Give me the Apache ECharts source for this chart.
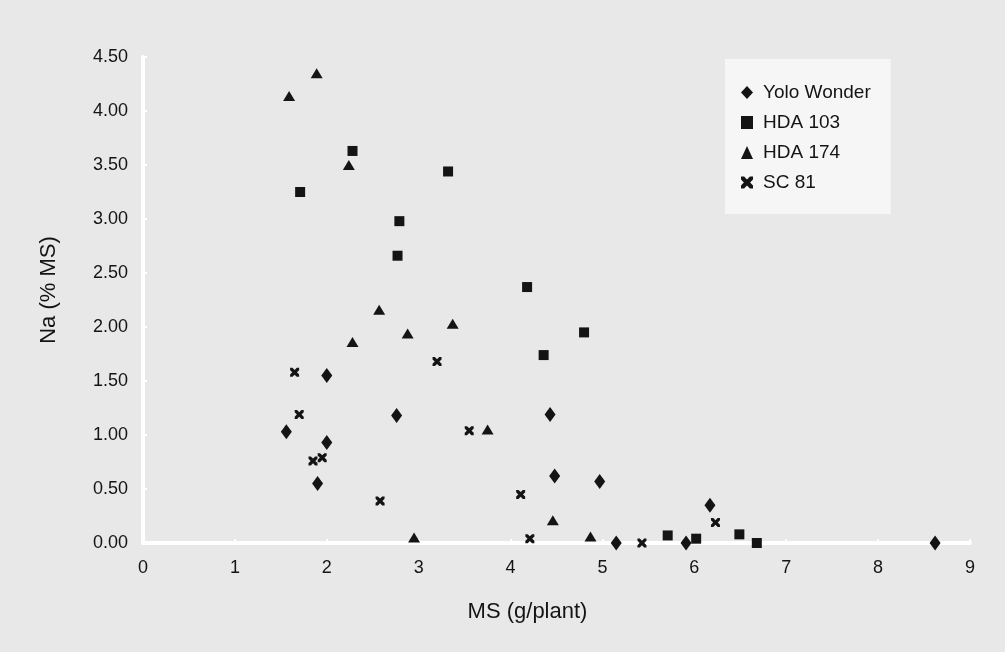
<!DOCTYPE html>
<html>
<head>
<meta charset="utf-8">
<script src="https://cdn.jsdelivr.net/npm/echarts@6/dist/echarts.min.js"></script>
<style>
  html, body { margin: 0; padding: 0; background: #e8e8e8; }
  #chart { width: 1005px; height: 652px; }
</style>
</head>
<body>
<div id="chart"></div>
<script>
// MS (g/plant) vs Na (% MS), one array per variety
const yoloWonder = [
  [1.56, 1.03], [1.90, 0.55], [2.00, 0.93], [2.00, 1.55], [2.76, 1.18],
  [4.43, 1.19], [4.48, 0.62], [4.97, 0.57], [5.15, 0.00], [5.91, 0.00],
  [6.17, 0.35], [8.62, 0.00]
]
const hda103 = [
  [1.71, 3.25], [2.28, 3.63], [2.77, 2.66], [2.79, 2.98], [3.32, 3.44],
  [4.18, 2.37], [4.36, 1.74], [4.80, 1.95], [5.71, 0.07], [6.02, 0.04],
  [6.49, 0.08], [6.68, 0.00]
]
const hda174 = [
  [1.59, 4.14], [1.89, 4.35], [2.24, 3.50], [2.28, 1.86], [2.57, 2.16],
  [2.88, 1.94], [2.95, 0.05], [3.37, 2.03], [3.75, 1.05], [4.46, 0.21],
  [4.87, 0.06]
]
const sc81 = [
  [1.65, 1.58], [1.70, 1.19], [1.85, 0.76], [1.95, 0.79], [2.58, 0.39],
  [3.20, 1.68], [3.55, 1.04], [4.11, 0.45], [4.21, 0.04], [5.43, 0.00],
  [6.23, 0.19]
]
const seriesNames = ['Yolo Wonder', 'HDA 103', 'HDA 174', 'SC 81']

const font = "'Liberation Sans', Arial, sans-serif"
const ink = '#141414'
const crossPath = 'path://M0,0 L2.6,0 L5,2.4 L7.4,0 L10,0 L10,2.6 L7.6,5 L10,7.4 L10,10 L7.4,10 L5,7.6 L2.6,10 L0,10 L0,7.4 L2.4,5 L0,2.6 Z'

const chart = echarts.init(document.getElementById('chart'))

const option = {
  backgroundColor: '#e8e8e8',
  animation: false,
  grid: { left: 143, right: 35, top: 57, bottom: 109 },
  legend: {
    orient: 'vertical',
    left: 725,
    top: 59,
    padding: [24, 20, 22, 16],
    backgroundColor: '#f6f6f6',
    itemWidth: 12,
    itemHeight: 13,
    itemGap: 11,
    textStyle: { color: ink, fontFamily: font, fontSize: 19, padding: [0, 0, 0, 5] },
    data: seriesNames
  },
  xAxis: {
    type: 'value',
    min: 0,
    max: 9,
    interval: 1,
    name: 'MS (g/plant)',
    nameLocation: 'middle',
    nameGap: 58,
    nameTextStyle: { color: ink, fontFamily: font, fontSize: 22, padding: [0, 58, 0, 0] },
    axisLine: { lineStyle: { color: '#ffffff', width: 4 } },
    axisTick: { show: true, inside: true, length: 4, lineStyle: { color: '#ffffff', width: 2 } },
    axisLabel: { color: ink, fontFamily: font, fontSize: 18, margin: 16 },
    splitLine: { show: false }
  },
  yAxis: {
    type: 'value',
    min: 0,
    max: 4.5,
    interval: 0.5,
    name: 'Na (% MS)',
    nameLocation: 'middle',
    nameGap: 83,
    nameTextStyle: { color: ink, fontFamily: font, fontSize: 22, padding: [0, 0, 0, 20] },
    axisLine: { show: true, lineStyle: { color: '#ffffff', width: 4 } },
    axisTick: { show: true, inside: true, length: 4, lineStyle: { color: '#ffffff', width: 2 } },
    axisLabel: { color: ink, fontFamily: font, fontSize: 18, margin: 15, formatter: v => v.toFixed(2) },
    splitLine: { show: false }
  },
  series: [
    { name: 'Yolo Wonder', type: 'scatter', data: yoloWonder, symbol: 'diamond', symbolSize: [11, 15] },
    { name: 'HDA 103', type: 'scatter', data: hda103, symbol: 'rect', symbolSize: 10 },
    { name: 'HDA 174', type: 'scatter', data: hda174, symbol: 'triangle', symbolSize: [12, 10] },
    { name: 'SC 81', type: 'scatter', data: sc81, symbol: crossPath, symbolSize: 9 }
  ].map(s => Object.assign(s, { itemStyle: { color: ink, opacity: 1 }, emphasis: { disabled: true } }))
}

chart.setOption(option)
</script>
</body>
</html>
